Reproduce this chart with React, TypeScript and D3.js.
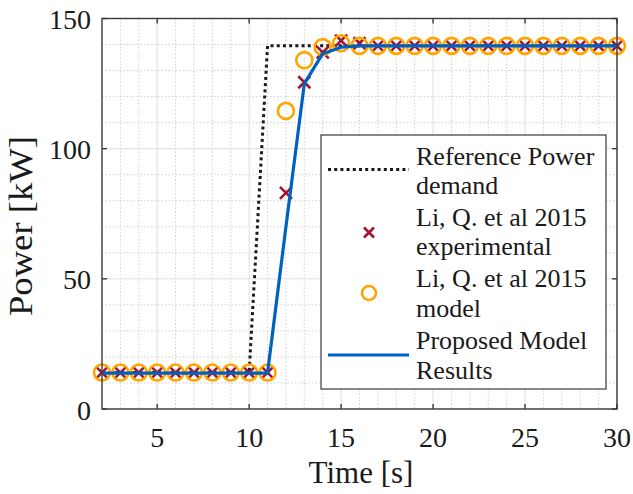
import React from "react";
import * as d3 from "d3";

const timeSteps = [2, 3, 4, 5, 6, 7, 8, 9, 10, 11, 12, 13, 14, 15, 16, 17, 18, 19, 20, 21, 22, 23, 24, 25, 26, 27, 28, 29, 30];
const experimental = [14, 14, 14, 14, 14, 14, 14, 14, 14, 14, 83, 125.5, 137, 141.5, 140.5, 139.5, 139.5, 139.5, 139.5, 139.5, 139.5, 139.5, 139.5, 139.5, 139.5, 139.5, 139.5, 139.5, 139.5];
const liModel = [14, 14, 14, 14, 14, 14, 14, 14, 14, 14, 114.5, 134, 139, 140.5, 139.5, 139.5, 139.5, 139.5, 139.5, 139.5, 139.5, 139.5, 139.5, 139.5, 139.5, 139.5, 139.5, 139.5, 139.5];
const proposed = [13.8, 13.8, 13.8, 13.8, 13.8, 13.8, 13.8, 13.8, 13.8, 13.8, 70, 125, 136.5, 139, 139.5, 139.5, 139.5, 139.5, 139.5, 139.5, 139.5, 139.5, 139.5, 139.5, 139.5, 139.5, 139.5, 139.5, 139.5];
const refTimes = [2, 10, 11, 30];
const refPower = [14, 14, 139.5, 139.5];
const xTicks = [5, 10, 15, 20, 25, 30];
const yTicks = [0, 50, 100, 150];
const legendLabels = [
  ["Reference Power", "demand"],
  ["Li, Q. et al 2015", "experimental"],
  ["Li, Q. et al 2015", "model"],
  ["Proposed Model", "Results"],
];

const W = 633;
const H = 494;
const L = 102, R = 617, T = 18.5, B = 409;
const FONT = "'Liberation Serif', 'Times New Roman', serif";
const TXT = "#1a1a1a";
const AX = "#3a3a3a";
const RED = "#A2142F";
const ORANGE = "#FFA500";
const BLUE = "#0062C0";

export default function App() {
  const x = d3.scaleLinear().domain([2, 30]).range([L, R]);
  const y = d3.scaleLinear().domain([0, 150]).range([B, T]);
  const minorX = d3.range(3, 30, 1).filter((v) => v % 5 !== 0);
  const minorY = d3.range(10, 150, 10).filter((v) => v % 50 !== 0);
  const line = d3.line<[number, number]>().x((d) => x(d[0])).y((d) => y(d[1]));
  const refPts = refTimes.map((t, i) => [t, refPower[i]] as [number, number]);
  const propPts = timeSteps.map((t, i) => [t, proposed[i]] as [number, number]);
  const xs = 6;

  const lgX = 321, lgY = 135, lgW = 285, lgH = 254;
  const rowBase = [164.5, 225.5, 287, 349];

  return (
    <div style={{ position: "absolute", left: 0, top: 0 }}>
      <svg width={W} height={H} style={{ display: "block", background: "#fff" }} fontFamily={FONT}>
        <rect x={0} y={0} width={W} height={H} fill="#fff" />
        {/* minor grid */}
        {minorX.map((v) => (
          <line key={"mx" + v} x1={x(v)} x2={x(v)} y1={T} y2={B} stroke="#c4c4c4" strokeWidth={0.8} strokeDasharray="1.5,2" />
        ))}
        {minorY.map((v) => (
          <line key={"my" + v} x1={L} x2={R} y1={y(v)} y2={y(v)} stroke="#c4c4c4" strokeWidth={0.8} strokeDasharray="1.5,2" />
        ))}
        {/* major grid */}
        {xTicks.map((v) => (
          <line key={"gx" + v} x1={x(v)} x2={x(v)} y1={T} y2={B} stroke="#dedede" strokeWidth={1} />
        ))}
        {yTicks.map((v) => (
          <line key={"gy" + v} x1={L} x2={R} y1={y(v)} y2={y(v)} stroke="#dedede" strokeWidth={1} />
        ))}
        {/* reference */}
        <path d={line(refPts) || ""} fill="none" stroke="#1a1a1a" strokeWidth={3} strokeDasharray="3,3.2" />
        {/* experimental */}
        {timeSteps.map((t, i) => (
          <path key={"e" + t} d={`M${x(t) - xs},${y(experimental[i]) - xs}L${x(t) + xs},${y(experimental[i]) + xs}M${x(t) - xs},${y(experimental[i]) + xs}L${x(t) + xs},${y(experimental[i]) - xs}`} stroke={RED} strokeWidth={2.6} fill="none" />
        ))}
        {/* model */}
        {timeSteps.map((t, i) => (
          <circle key={"m" + t} cx={x(t)} cy={y(liModel[i])} r={8} fill="none" stroke={ORANGE} strokeWidth={2.6} />
        ))}
        {/* proposed */}
        <path d={line(propPts) || ""} fill="none" stroke={BLUE} strokeWidth={3.2} strokeLinejoin="round" />
        {/* frame */}
        <rect x={L} y={T} width={R - L} height={B - T} fill="none" stroke={AX} strokeWidth={1.4} />
        {xTicks.map((v) => (
          <g key={"tx" + v}>
            <line x1={x(v)} x2={x(v)} y1={B} y2={B - 5} stroke={AX} strokeWidth={1.4} />
            <line x1={x(v)} x2={x(v)} y1={T} y2={T + 5} stroke={AX} strokeWidth={1.4} />
            <text x={x(v)} y={447} textAnchor="middle" fontSize={28} fill={TXT}>{v}</text>
          </g>
        ))}
        {yTicks.map((v) => (
          <g key={"ty" + v}>
            <line x1={L} x2={L + 5} y1={y(v)} y2={y(v)} stroke={AX} strokeWidth={1.4} />
            <line x1={R} x2={R - 5} y1={y(v)} y2={y(v)} stroke={AX} strokeWidth={1.4} />
            <text x={91} y={y(v) + 10.5} textAnchor="end" fontSize={28} fill={TXT}>{v}</text>
          </g>
        ))}
        <text x={361} y={483} textAnchor="middle" fontSize={31} fill={TXT}>Time [s]</text>
        <text transform="translate(32,226) rotate(-90)" textAnchor="middle" fontSize={33} fill={TXT} textLength={180} lengthAdjust="spacingAndGlyphs">Power [kW]</text>
        {/* legend */}
        <rect x={lgX} y={lgY} width={lgW} height={lgH} fill="#fff" stroke={AX} strokeWidth={1.2} />
        <line x1={328} x2={409} y1={rowBase[0] + 5} y2={rowBase[0] + 5} stroke="#1a1a1a" strokeWidth={3} strokeDasharray="3,3.2" />
        <path d={`M${369 - 5},${rowBase[1] + 7 - 5}L${369 + 5},${rowBase[1] + 7 + 5}M${369 - 5},${rowBase[1] + 7 + 5}L${369 + 5},${rowBase[1] + 7 - 5}`} stroke={RED} strokeWidth={2.6} />
        <circle cx={369} cy={rowBase[2] + 6} r={7} fill="none" stroke={ORANGE} strokeWidth={2.6} />
        <line x1={328} x2={409} y1={rowBase[3] + 6} y2={rowBase[3] + 6} stroke={BLUE} strokeWidth={3.2} />
        {legendLabels.map((lbl, i) => (
          <g key={"lg" + i}>
            <text x={416} y={rowBase[i]} fontSize={26} fill={TXT}>{lbl[0]}</text>
            <text x={416} y={rowBase[i] + 29.5} fontSize={26} fill={TXT}>{lbl[1]}</text>
          </g>
        ))}
      </svg>
    </div>
  );
}
